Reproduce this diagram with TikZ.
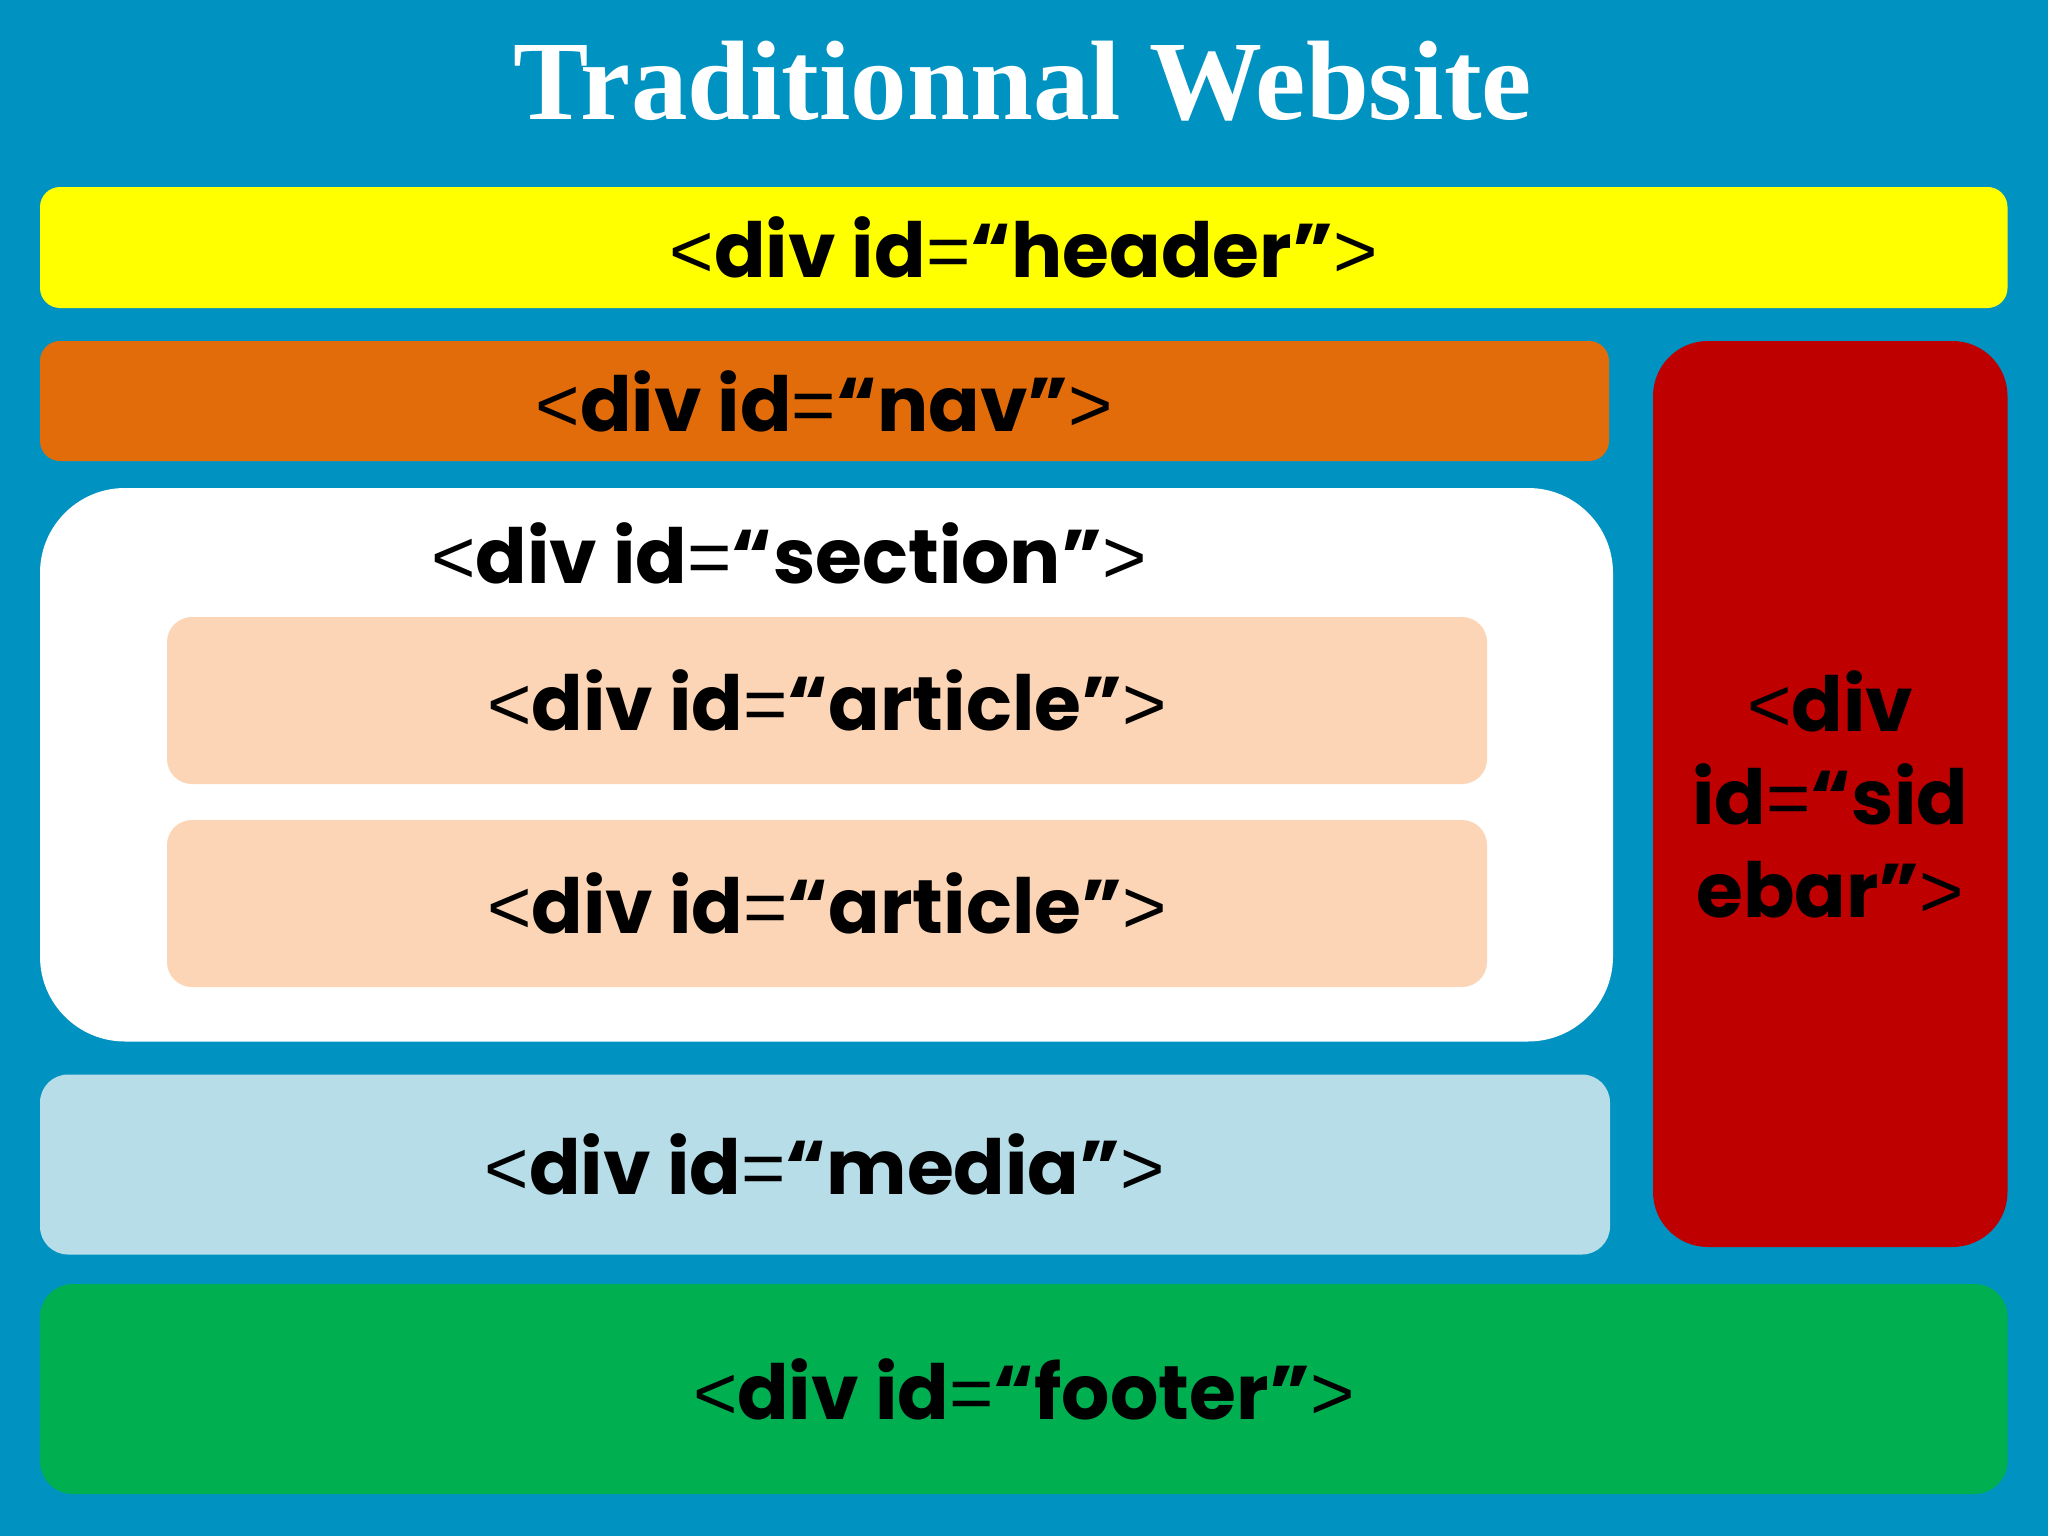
\documentclass[tikz,border=0pt]{standalone}
\usepackage{fontspec}
\usepackage{tikz}

\newfontfamily\titlefont{Liberation Serif}
\newfontfamily\divfont{Poppins}
\newfontfamily\symfont{Liberation Sans}
\newcommand\opentag{{\symfont\mdseries <}}
\newcommand\closetag{{\symfont\mdseries >}}
\newcommand\eqsign{{\symfont\mdseries =}}
\newcommand\divtag[1]{\opentag div id\eqsign“#1”\closetag}

\definecolor{bgblue}{RGB}{0,146,193}
\definecolor{hdryellow}{RGB}{255,255,0}
\definecolor{navorange}{RGB}{227,108,10}
\definecolor{artpeach}{RGB}{251,213,181}
\definecolor{medblue}{RGB}{183,222,232}
\definecolor{sidered}{RGB}{190,0,0}
\definecolor{ftrgreen}{RGB}{0,176,80}

\begin{document}
\begin{tikzpicture}[x = 1pt, y = -1pt,
    block/.style = {rectangle, rounded corners = #1, inner sep = 0pt, outer sep = 0pt,
        font = {\divfont\bfseries\fontsize{76}{93}\selectfont}},
    tag/.style = {inner sep = 0pt, font = {\divfont\bfseries\fontsize{76}{93}\selectfont}}]
\useasboundingbox (0,0) rectangle (2048,1536);
\fill[bgblue] (0,0) rectangle (2048,1536);
\draw (1023,120) node[anchor = base, text = white, font = {\titlefont\bfseries\fontsize{113}{120}\selectfont}](title){Traditionnal Website};
\draw (1023.75,247.5) node[block = 20pt, fill = hdryellow, minimum width = 1967.5pt, minimum height = 121pt](header){\divtag{header}}
    (824.5,401) node[block = 20pt, fill = navorange, minimum width = 1569pt, minimum height = 120pt](nav){\divtag{nav}}
    (826.5,764.75) node[block = 85pt, fill = white, minimum width = 1573pt, minimum height = 553.5pt](section){}
    (827,700.5) node[block = 25pt, fill = artpeach, minimum width = 1320pt, minimum height = 167pt](art1){\divtag{article}}
    (827,903.5) node[block = 25pt, fill = artpeach, minimum width = 1320pt, minimum height = 167pt](art2){\divtag{article}}
    (825,1164.5) node[block = 28pt, fill = medblue, minimum width = 1570pt, minimum height = 180pt](media){\divtag{media}}
    (1830.25,794) node[block = 55pt, fill = sidered, minimum width = 354.5pt, minimum height = 906pt, align = center](sidebar){\opentag div\\id\eqsign“sid\\ebar”\closetag}
    (1023.75,1389) node[block = 33pt, fill = ftrgreen, minimum width = 1967.5pt, minimum height = 210pt](footer){\divtag{footer}};
\draw (789,553) node[tag](sectext){\divtag{section}};
\end{tikzpicture}
\end{document}
